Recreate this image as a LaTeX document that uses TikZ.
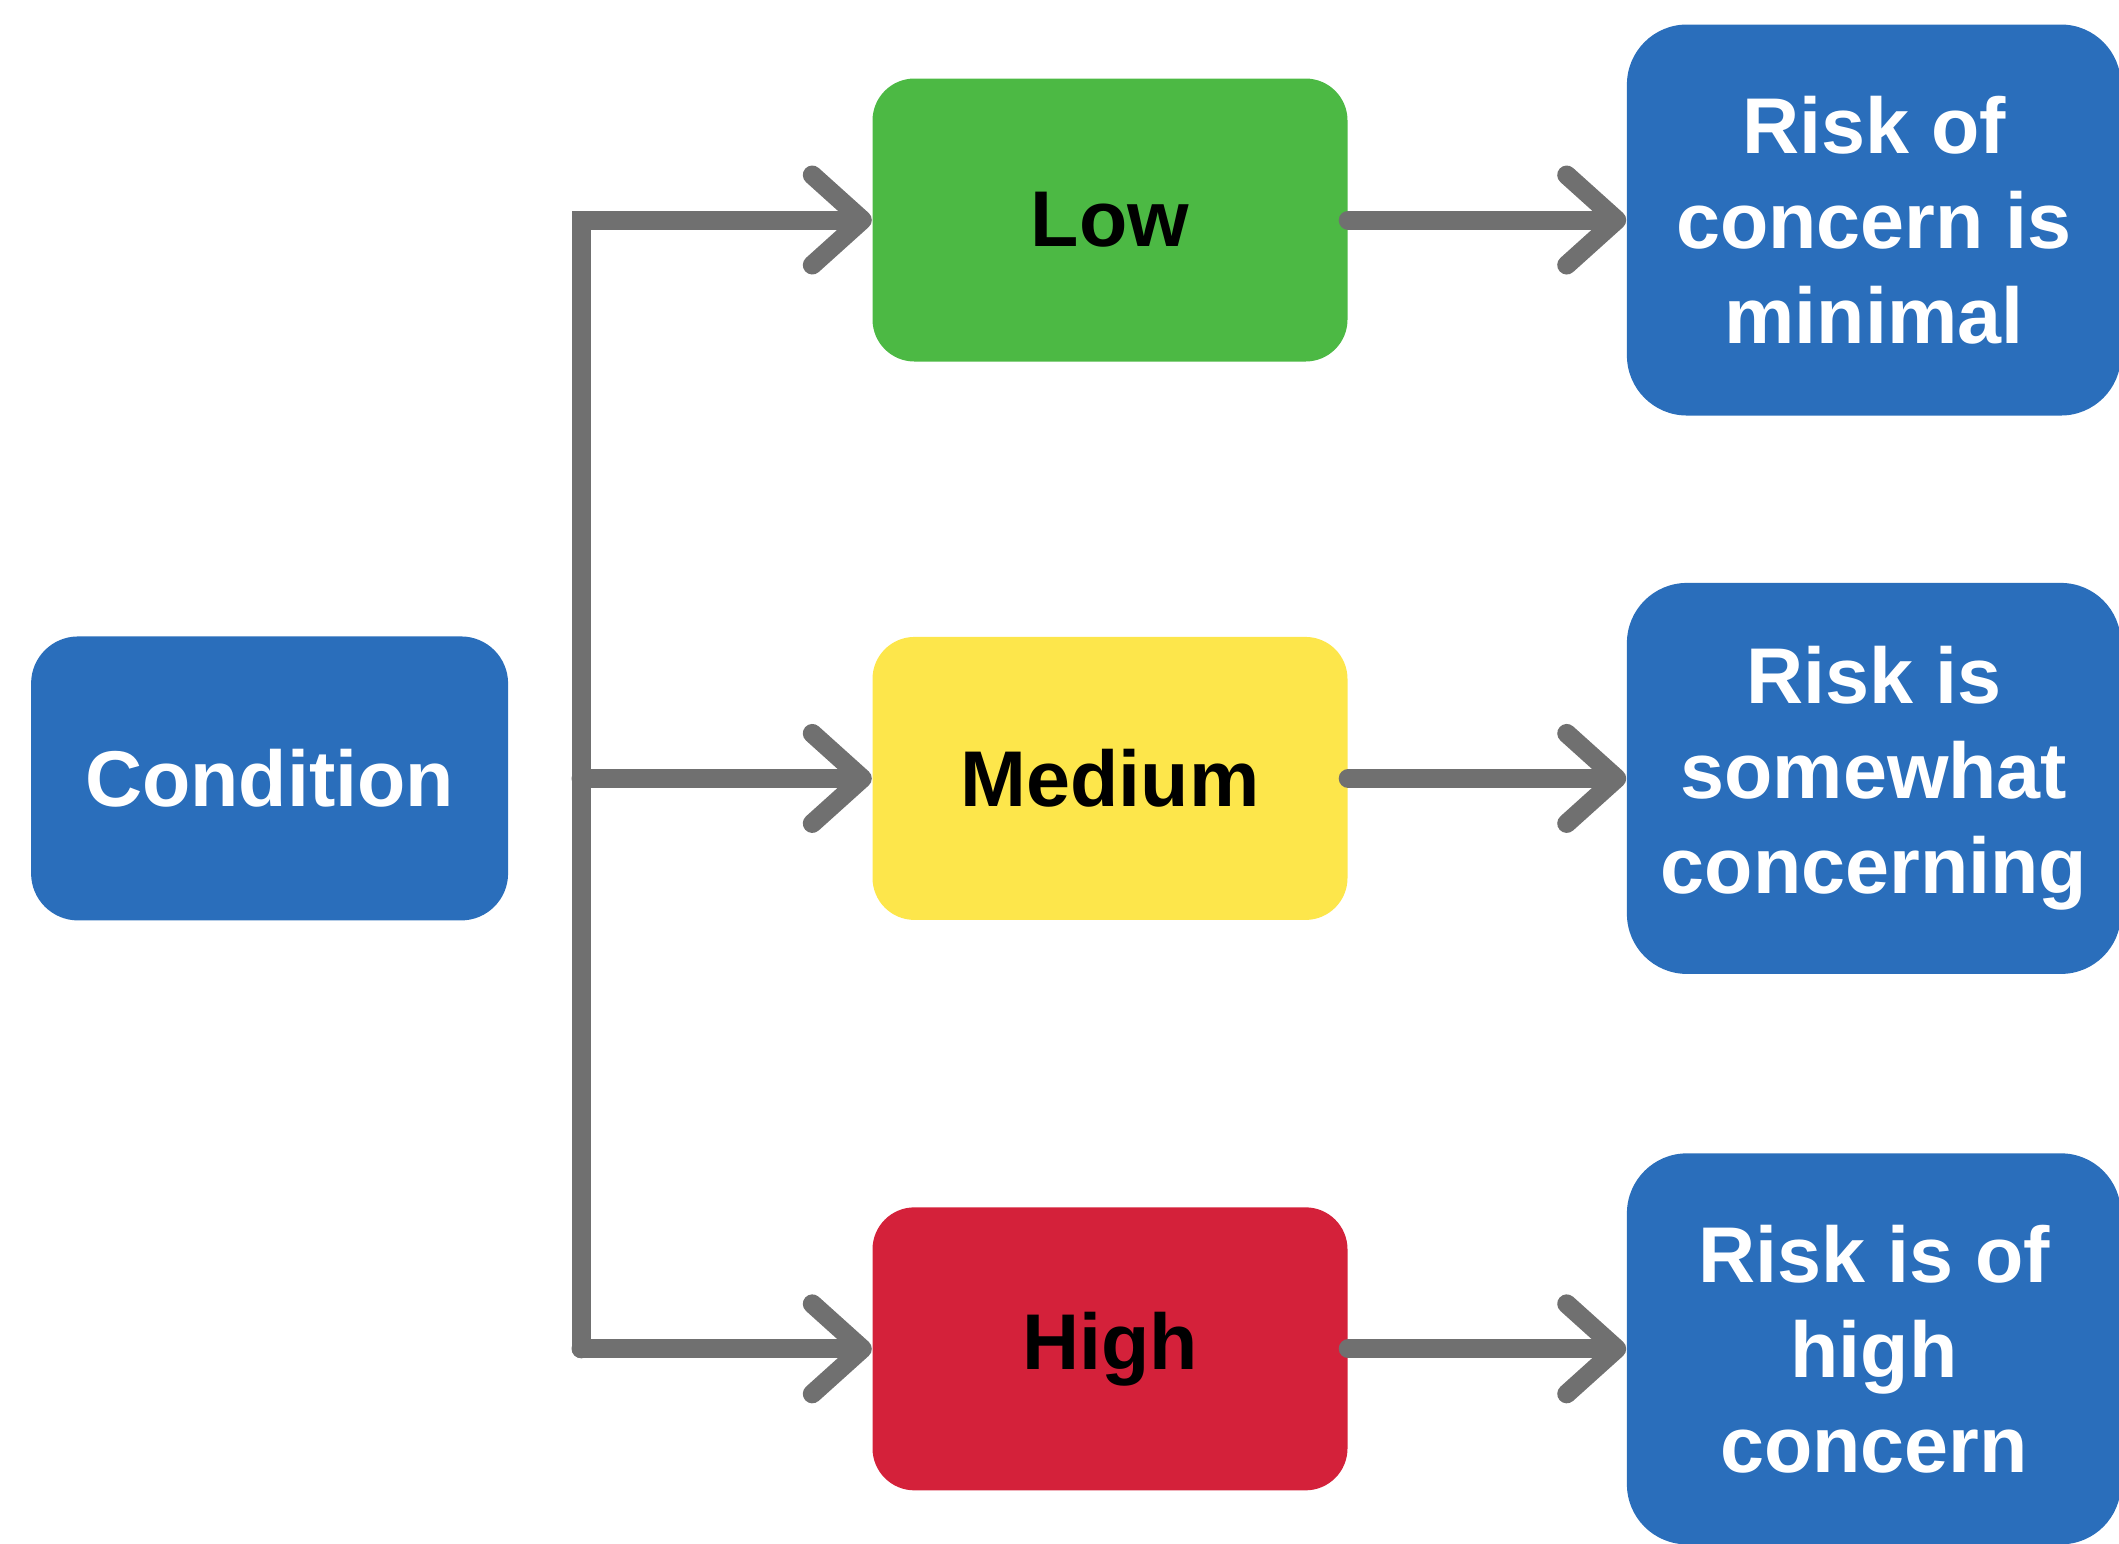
\documentclass[tikz,border=0pt]{standalone}
\usepackage{fontspec}
\setmainfont{Liberation Sans}
\usetikzlibrary{positioning, arrows.meta}
\definecolor{riskblue}{HTML}{2A6EBB}
\definecolor{lowgreen}{HTML}{4CB944}
\definecolor{medyellow}{HTML}{FDE64B}
\definecolor{highred}{HTML}{D4213A}
\definecolor{linkgray}{HTML}{707070}

\begin{document}
\begin{tikzpicture}[
    box/.style={rounded corners=0.42cm, minimum width=4.75cm, minimum height=2.83cm, inner sep=0pt, align=center, font=\fontsize{22.5}{27}\selectfont\bfseries},
    outcome/.style={box, fill=riskblue, text=white, minimum width=4.94cm, minimum height=3.91cm, rounded corners=0.6cm},
    link/.style={draw=linkgray, line width=0.19cm, line cap=round},
    flow/.style={link, -{Straight Barb[length=0.5cm, width=0.9cm, round]}}
]
    \useasboundingbox (0,0) rectangle (21.19,-15.43);
    \clip (0,0) rectangle (21.19,-15.43);
    \node (Low) [box, fill=lowgreen] at (11.10,-2.20) {Low};
    \node (Medium) [box, fill=medyellow, below=2.74cm of Low] {Medium};
    \node (High) [box, fill=highred, below=2.86cm of Medium] {High};
    \node (Condition) [box, fill=riskblue, text=white, minimum width=4.77cm, minimum height=2.84cm, rounded corners=0.47cm, left=3.63cm of Medium] {Condition};
    \node (LowRisk) [outcome, right=2.78cm of Low] {Risk of\\concern is\\minimal};
    \node (MedRisk) [outcome, right=2.78cm of Medium] {Risk is\\somewhat\\concerning};
    \node (HighRisk) [outcome, right=2.78cm of High] {Risk is of\\high\\concern};
    \coordinate (forkbot) at (5.81,0 |- High.west);
    \draw [flow, line join=miter] (forkbot) |- (Low.west);
    \draw [flow] (forkbot |- Medium.west) -- (Medium.west);
    \draw [flow] (forkbot) -- (High.west);
    \draw [flow] (Low.east) -- (LowRisk.west);
    \draw [flow] (Medium.east) -- (MedRisk.west);
    \draw [flow] (High.east) -- (HighRisk.west);
\end{tikzpicture}
\end{document}
